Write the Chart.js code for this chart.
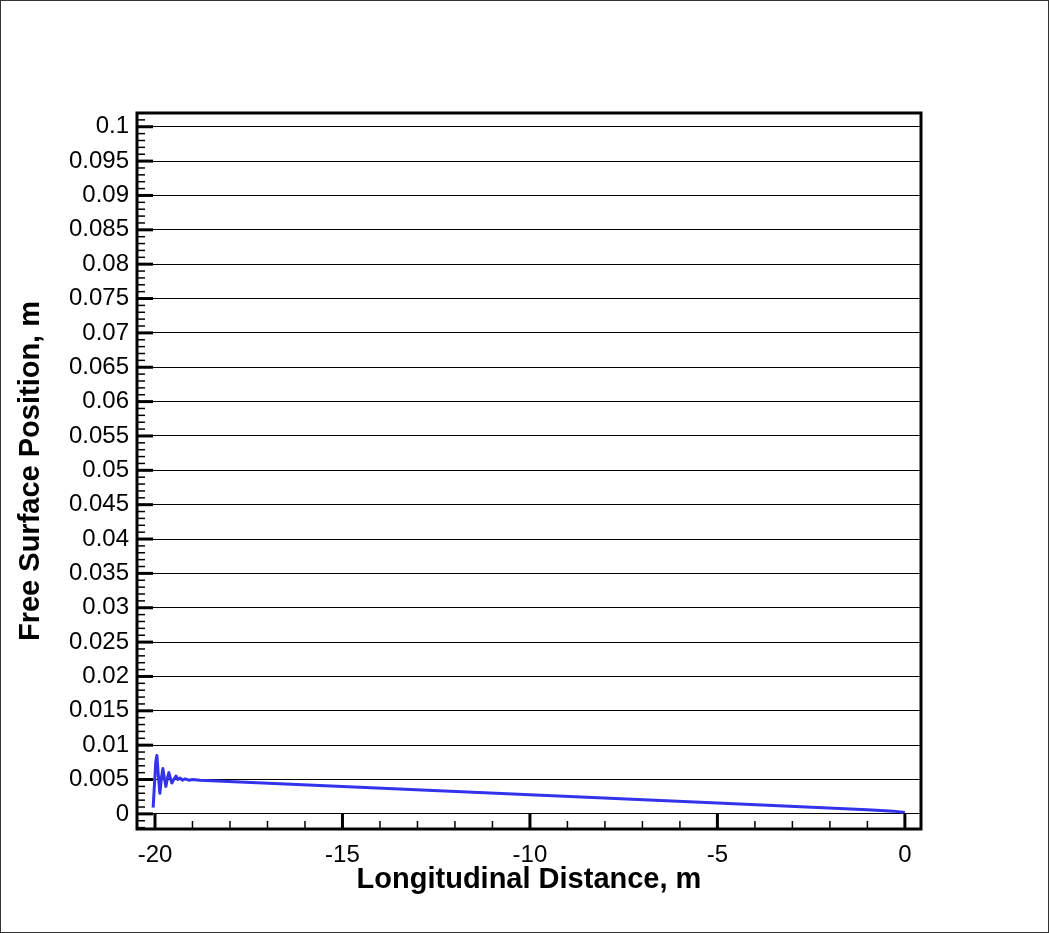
<!DOCTYPE html>
<html>
<head>
<meta charset="utf-8">
<script src="https://cdn.jsdelivr.net/npm/chart.js@4/dist/chart.umd.min.js"></script>
<style>
  body { margin: 0; background: #fff; }
  canvas { display: block; }
</style>
</head>
<body>
<canvas id="c" width="1049" height="933"></canvas>
<script>
// free surface profile
const xs = [-20.05, -19.98, -19.95, -19.91, -19.87, -19.83, -19.79, -19.75, -19.71, -19.67, -19.63, -19.59, -19.55, -19.5, -19.44, -19.39, -19.33, -19.27, -19.2, -19.1, -19.0, -18.8, -15, -10, -5, -1, -0.3, 0];
const ys = [0.0009, 0.0075, 0.0085, 0.0055, 0.0030, 0.0052, 0.0066, 0.0052, 0.0040, 0.0052, 0.0060, 0.0052, 0.0045, 0.0050, 0.0055, 0.0050, 0.0052, 0.0049, 0.0051, 0.0049, 0.0050, 0.0049, 0.0040, 0.0028, 0.0016, 0.0006, 0.0004, 0.0002];
const yTicks = [0, 0.005, 0.01, 0.015, 0.02, 0.025, 0.03, 0.035, 0.04, 0.045, 0.05, 0.055, 0.06, 0.065, 0.07, 0.075, 0.08, 0.085, 0.09, 0.095, 0.1];
const xTicks = [-20, -15, -10, -5, 0];

const framePlugin = {
  id: 'frame',
  afterDraw(chart) {
    const { ctx, chartArea: a, scales } = chart;
    ctx.save();
    ctx.strokeStyle = '#000';
    // minor + major ticks, pointing inward
    for (let i = -2; i <= 102; i++) {
      const p = scales.y.getPixelForValue(i / 1000);
      if (p < a.top || p > a.bottom) continue;
      const len = i % 5 === 0 ? 16 : 8;
      ctx.lineWidth = i % 5 === 0 ? 3 : 1.5;
      ctx.beginPath(); ctx.moveTo(a.left, p); ctx.lineTo(a.left + len, p); ctx.stroke();
    }
    for (let i = -20; i <= 0; i++) {
      const p = scales.x.getPixelForValue(i);
      const len = i % 5 === 0 ? 16 : 8;
      ctx.lineWidth = i % 5 === 0 ? 3 : 1.5;
      ctx.beginPath(); ctx.moveTo(p, a.bottom); ctx.lineTo(p, a.bottom - len); ctx.stroke();
    }
    ctx.lineWidth = 3;
    ctx.strokeRect(a.left, a.top, a.right - a.left, a.bottom - a.top);
    ctx.lineWidth = 1;
    ctx.strokeStyle = '#333';
    ctx.strokeRect(0.5, 0.5, chart.width - 1, chart.height - 1);
    ctx.restore();
  }
};

new Chart(document.getElementById('c'), {
  type: 'line',
  data: {
    datasets: [{
      data: xs.map((x, i) => ({ x, y: ys[i] })),
      borderColor: '#3333ee',
      borderWidth: 3,
      borderJoinStyle: 'round',
      pointRadius: 0,
      tension: 0
    }]
  },
  options: {
    responsive: false,
    animation: false,
    layout: { padding: { top: 113, right: 128, bottom: 36, left: 14 } },
    plugins: { legend: { display: false }, tooltip: { enabled: false } },
    scales: {
      x: {
        type: 'linear', min: -20.48, max: 0.43,
        afterBuildTicks: s => { s.ticks = xTicks.map(v => ({ value: v })); },
        afterFit: s => { s.height = 68; },
        grid: { display: false },
        border: { display: false },
        ticks: { color: '#000', font: { family: 'Liberation Sans', size: 24 }, padding: 4, maxRotation: 0, callback: v => String(v) },
        title: { display: true, text: 'Longitudinal Distance, m', color: '#000', padding: 0, font: { family: 'Liberation Sans', size: 29, weight: 'bold' } }
      },
      y: {
        type: 'linear', min: -0.0022, max: 0.102,
        afterBuildTicks: s => { s.ticks = yTicks.map(v => ({ value: v })); },
        afterFit: s => { s.width = 123; },
        grid: { color: '#000', lineWidth: 1, drawTicks: false },
        border: { display: false },
        ticks: { color: '#000', font: { family: 'Liberation Sans', size: 24 }, padding: 8, callback: v => String(v) },
        title: { display: true, text: 'Free Surface Position, m', color: '#000', padding: 0, font: { family: 'Liberation Sans', size: 29, weight: 'bold' } }
      }
    }
  },
  plugins: [framePlugin]
});
</script>
</body>
</html>
